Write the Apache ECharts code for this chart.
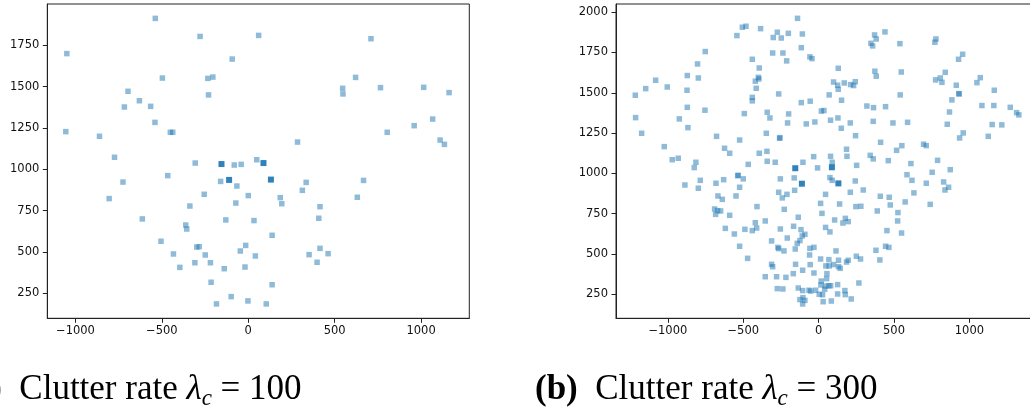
<!DOCTYPE html>
<html>
<head>
<meta charset="utf-8">
<script src="https://cdn.jsdelivr.net/npm/echarts@6/dist/echarts.min.js"></script>
<style>
html,body{margin:0;padding:0;background:#fff;}
#chart{width:1030px;height:410px;}
</style>
</head>
<body>
<div id="chart"></div>
<script>
// ---- Data ----
const xTicks = [-1000, -500, 0, 500, 1000];
const yTicksA = [250, 500, 750, 1000, 1250, 1500, 1750];
const yTicksB = [250, 500, 750, 1000, 1250, 1500, 1750, 2000];

const targets = [[-155, 1032], [-111, 936], [88, 1038], [131, 938]];

const clutterA = [
  [-538,1913],[-279,1804],[-1050,1700],[-93,1667],[-497,1552],[-234,1550],[-205,1558],[-696,1472],
  [-230,1450],[-630,1415],[-717,1377],[-565,1381],[-540,1284],[-1056,1228],[-861,1200],[-451,1224],
  [-437,1224],[-774,1073],[-307,1038],[-81,1026],[-41,1030],[49,1058],[-466,962],[-725,923],
  [-160,927],[-66,899],[-255,849],[0,841],[-805,823],[-72,796],[-338,778],[-613,700],[-130,694],
  [33,690],[-362,663],[-356,639],[-505,565],[-298,530],[-284,532],[-15,540],[-433,488],[-46,506],
  [-249,482],[41,476],[-309,435],[-219,435],[-396,407],[-19,409],[-139,399],[-215,317],[-99,230],
  [-184,186],[-2,204],
  [60,1810],[710,1790],[621,1556],[546,1490],[548,1456],[765,1494],[1015,1496],[1162,1464],
  [1067,1304],[960,1264],[804,1224],[1110,1177],[1135,1151],[285,1165],[335,921],[667,933],
  [313,873],[185,829],[194,792],[631,831],[415,774],[408,704],[138,601],[415,522],[352,484],
  [462,490],[398,438],[138,302],[104,186]
];

const clutterB = [
  [-140,1962],[-506,1907],[-482,1913],[-385,1898],[-542,1855],[-274,1876],[-201,1869],[-108,1865],
  [-301,1843],[-248,1840],[-115,1780],[-752,1756],[-305,1747],[-237,1747],[-58,1723],[-44,1712],
  [-440,1708],[-212,1698],[-803,1679],[-394,1654],[-871,1607],[-798,1592],[-400,1596],[-396,1586],
  [-420,1572],[-1081,1578],[-1147,1526],[-1004,1536],[-873,1516],[-414,1528],[-1216,1485],[-265,1493],
  [-440,1472],[-440,1450],[-115,1439],[-56,1448],[-871,1410],[-754,1392],[18,1387],[35,1390],
  [-493,1371],[-341,1379],[-199,1369],[-1214,1346],[-924,1338],[-323,1344],[-206,1313],[-82,1307],
  [-25,1319],[-867,1284],[-1174,1249],[-347,1249],[-677,1230],[-259,1218],[-257,1222],[-524,1207],
  [-1024,1166],[-624,1156],[-343,1137],[-590,1125],[-394,1125],[-33,1104],[-971,1085],[-931,1094],
  [-341,1075],[-288,1069],[-814,1069],[-104,1069],[-467,1056],
  [440,1878],[371,1859],[382,1834],[347,1807],[358,1791],[539,1805],[778,1834],[771,1814],
  [955,1739],[928,1708],[130,1652],[373,1634],[382,1603],[548,1629],[840,1627],[99,1567],
  [126,1547],[130,1522],[170,1561],[212,1551],[232,1545],[243,1569],[776,1580],[807,1592],
  [818,1565],[913,1547],[1050,1563],[1072,1594],[70,1487],[152,1454],[541,1487],[930,1495],
  [932,1493],[1165,1516],[884,1456],[320,1418],[364,1408],[444,1414],[1083,1421],[1162,1421],
  [1271,1410],[1313,1377],[1328,1363],[868,1381],[79,1330],[128,1344],[210,1313],[362,1323],
  [493,1313],[590,1317],[853,1305],[1151,1303],[1215,1301],[150,1280],[245,1234],[959,1251],
  [935,1220],[1125,1230],[411,1193],[552,1172],[696,1181],[714,1172],[185,1150],[517,1143],
  [79,1106],[188,1106],[342,1112],[362,1090],[90,1069],[462,1079],[789,1081],[252,1050],[612,1061],
  [-7,1034],[-825,1036],[-537,986],[-533,988],[-500,966],[-254,966],[-162,972],[-785,957],[-887,928],
  [-798,908],[-681,939],[-630,961],[-524,914],[-159,895],[-265,883],[-210,870],[-241,848],
  [-668,860],[-639,839],[-548,860],[13,814],[-409,794],[-228,777],[-690,779],[-670,769],
  [-650,767],[-683,746],[-590,740],[22,752],[-135,728],[-354,705],[-420,694],[-166,672],
  [-117,651],[-91,622],[-109,612],[-619,659],[-489,653],[-440,645],[-411,661],[-254,655],
  [-559,624],[-208,599],[-124,583],[-142,566],[-312,581],[-270,541],[-265,533],[-230,519],
  [-155,531],[-58,535],[-31,541],[-524,548],[-471,473],[-60,494],[13,469],[-312,436],
  [-305,421],[-153,436],[-56,434],[-106,399],[-31,382],[-168,378],[-354,359],[-279,359],
  [-217,355],[-274,285],[-237,283],[-135,289],[-106,273],[-64,275],[-53,270],[-20,275],
  [-124,217],[-104,229],[-91,212],[-106,190],
  [75,974],[90,957],[243,953],[586,992],[753,1007],[873,1023],[619,957],[714,939],
  [829,947],[862,914],[838,897],[46,870],[210,883],[296,897],[409,858],[468,852],
  [632,879],[139,810],[247,794],[280,796],[475,804],[574,823],[740,808],[389,767],
  [526,757],[106,711],[177,721],[161,692],[196,701],[524,705],[46,665],[75,637],
  [453,645],[550,630],[115,519],[444,548],[466,541],[380,523],[68,465],[132,461],
  [185,450],[196,461],[250,486],[278,469],[406,463],[48,426],[70,426],[99,434],
  [132,421],[143,411],[55,378],[53,347],[17,332],[46,301],[68,303],[80,303],[15,308],
  [126,310],[267,320],[40,281],[174,273],[177,248],[4,250],[26,247],[126,252],
  [216,221],[30,204],[84,208]
];

const captionA = '{b|(a)}  Clutter rate {i|λ}{s|c} = 100';
const captionB = '{b|(b)}  Clutter rate {i|λ}{s|c} = 300';

// ---- Chart ----
const fmt = v => (v < 0 ? '\u2212' + Math.abs(v) : String(v));
const labelStyle = {fontFamily: 'DejaVu Sans', fontSize: 11.5, color: '#111'};
const lineStyle = {color: '#222', width: 1};

function xAxis(gi, min, max) {
  return {
    type: 'value', gridIndex: gi, min: min, max: max,
    axisLine: {show: true, onZero: false, lineStyle: lineStyle},
    axisTick: {show: true, length: 4.5, lineStyle: lineStyle, customValues: xTicks},
    axisLabel: Object.assign({margin: 7, formatter: fmt, customValues: xTicks}, labelStyle),
    splitLine: {show: false}
  };
}
function yAxis(gi, min, max, ticks) {
  return {
    type: 'value', gridIndex: gi, min: min, max: max,
    axisLine: {show: true, onZero: false, lineStyle: lineStyle},
    axisTick: {show: true, length: 4.5, lineStyle: lineStyle, customValues: ticks},
    axisLabel: Object.assign({margin: 8, formatter: fmt, customValues: ticks}, labelStyle),
    splitLine: {show: false}
  };
}
const richBase = {
  b: {fontWeight: 'bold', fontFamily: 'Liberation Serif', fontSize: 35, lineHeight: 42},
  i: {fontStyle: 'italic', fontFamily: 'Liberation Serif', fontSize: 35, lineHeight: 42},
  s: {fontStyle: 'italic', fontFamily: 'Liberation Serif', fontSize: 23, lineHeight: 23, verticalAlign: 'bottom'}
};
function caption(x, text) {
  return {
    type: 'text', x: x, y: 389.9,
    style: {
      text: text, fontFamily: 'Liberation Serif', fontSize: 35, lineHeight: 42,
      fill: '#000', verticalAlign: 'middle', align: 'left', rich: richBase
    }
  };
}
function clutterSeries(idx, data) {
  return {
    type: 'scatter', xAxisIndex: idx, yAxisIndex: idx, data: data,
    symbol: 'rect', symbolSize: 5.5, clip: true,
    itemStyle: {color: '#1f77b4', opacity: 0.5}, emphasis: {disabled: true}
  };
}
function targetSeries(idx) {
  return {
    type: 'scatter', xAxisIndex: idx, yAxisIndex: idx, data: targets,
    symbol: 'rect', symbolSize: 6, clip: true,
    itemStyle: {color: '#1f77b4', opacity: 0.92}, emphasis: {disabled: true}, z: 3
  };
}

const chart = echarts.init(document.getElementById('chart'), null, {renderer: 'canvas'});
chart.setOption({
  animation: false,
  backgroundColor: '#fff',
  grid: [
    {left: 47.3, top: 4, width: 422, height: 314.3, show: true, borderColor: '#222', borderWidth: 1, backgroundColor: 'transparent', outerBoundsMode: 'none'},
    {left: 616, top: 4, width: 422, height: 314.3, show: true, borderColor: '#222', borderWidth: 1, backgroundColor: 'transparent', outerBoundsMode: 'none'}
  ],
  xAxis: [xAxis(0, -1163, 1279), xAxis(1, -1344, 1455)],
  yAxis: [yAxis(0, 99, 2000, yTicksA), yAxis(1, 101, 2051, yTicksB)],
  series: [clutterSeries(0, clutterA), targetSeries(0), clutterSeries(1, clutterB), targetSeries(1)],
  graphic: [caption(-39, captionA), caption(535, captionB)]
});
</script>
</body>
</html>
